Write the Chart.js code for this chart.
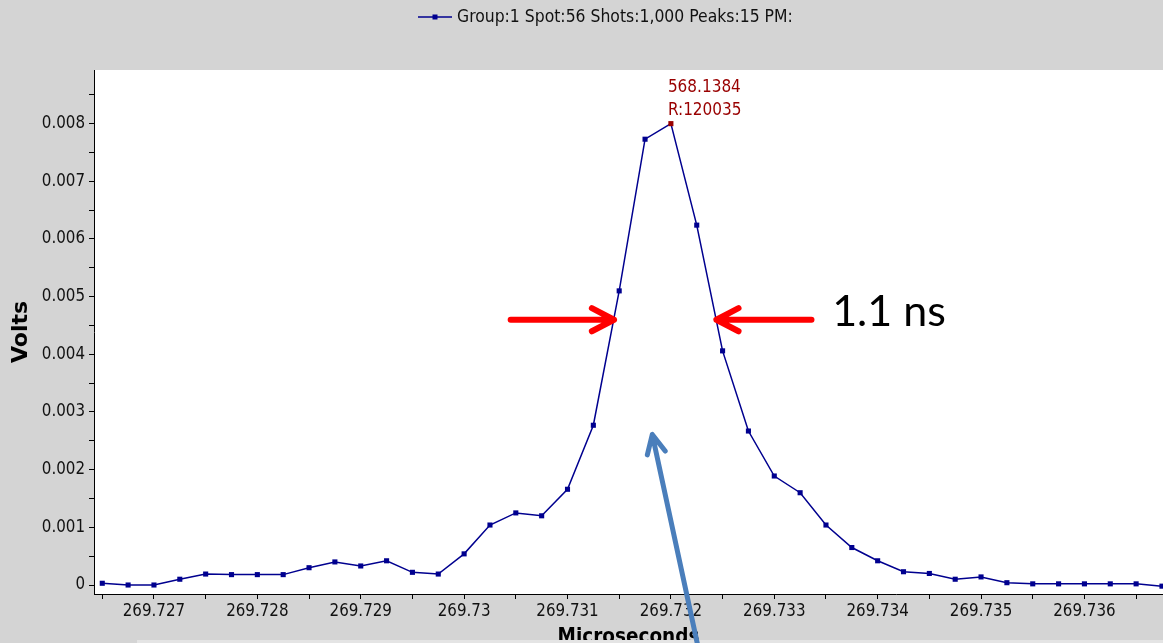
<!DOCTYPE html>
<html>
<head>
<meta charset="utf-8">
<script src="https://cdn.jsdelivr.net/npm/chart.js@4.4.1/dist/chart.umd.min.js"></script>
<style>
  html, body { margin: 0; padding: 0; background: #d4d4d4; overflow: hidden; }
  #wrap { width: 1163px; height: 643px; position: relative; }
</style>
</head>
<body>
<div id="wrap"><canvas id="c" width="1163" height="643"></canvas></div>
<script>
// Flight time of each sample (microseconds)
const times = [
  269.7265, 269.72675, 269.727, 269.72725, 269.7275, 269.72775, 269.728, 269.72825,
  269.7285, 269.72875, 269.729, 269.72925, 269.7295, 269.72975, 269.73, 269.73025,
  269.7305, 269.73075, 269.731, 269.73125, 269.7315, 269.73175, 269.732, 269.73225,
  269.7325, 269.73275, 269.733, 269.73325, 269.7335, 269.73375, 269.734, 269.73425,
  269.7345, 269.73475, 269.735, 269.73525, 269.7355, 269.73575, 269.736, 269.73625,
  269.7365, 269.73675
];
// Detector signal (volts)
const volts = [
  0.00003, 0.0, 0.0, 0.0001, 0.00019, 0.00018, 0.00018, 0.00018,
  0.0003, 0.0004, 0.00033, 0.00042, 0.00022, 0.00019, 0.00054, 0.00104,
  0.00125, 0.0012, 0.00166, 0.00277, 0.0051, 0.00773, 0.008, 0.00624,
  0.00406, 0.00267, 0.00189, 0.0016, 0.00104, 0.00065, 0.00042, 0.00023,
  0.0002, 0.0001, 0.00014, 0.00004, 0.00002, 0.00002, 0.00002, 0.00002,
  0.00002, -0.00002
];

const seriesLabel = 'Group:1 Spot:56 Shots:1,000 Peaks:15 PM:';
const peakLabel = ['568.1384', 'R:120035'];
const xTitle = 'Microseconds';
const yTitle = 'Volts';
const widthLabel = '1.1 ns';

// Visible axis windows
const xRange = [269.72642, 269.73676];
const yRange = [-0.000156, 0.00893];

// Peak-width markers and pointer, in axis units
const marks = {
  level: 0.0046,
  edges: [269.73145, 269.73244],
  tails: [269.73045, 269.73336],
  textX: 269.73356,
  pointerTip: [269.73182, 0.00261],
  pointerTail: [269.73229, -0.0013]
};

const LINE = '#00008f';
const PEAK = '#990000';
const FONT = "'DejaVu Sans Condensed', 'DejaVu Sans', sans-serif";

const peakIdx = volts.indexOf(Math.max(...volts));
const points = times.map((t, i) => ({ x: t, y: volts[i] }));

const isMajor = (v, step) => Math.abs(v / step - Math.round(v / step)) < 1e-6;
const fmt = v => String(parseFloat(v.toFixed(3)));

function arrow(ctx, x1, y1, x2, y2, head, angle) {
  const a = Math.atan2(y2 - y1, x2 - x1);
  ctx.beginPath();
  ctx.moveTo(x1, y1);
  ctx.lineTo(x2, y2);
  ctx.moveTo(x2 - head * Math.cos(a - angle), y2 - head * Math.sin(a - angle));
  ctx.lineTo(x2, y2);
  ctx.lineTo(x2 - head * Math.cos(a + angle), y2 - head * Math.sin(a + angle));
  ctx.stroke();
}

const plotBackground = {
  id: 'plotBackground',
  beforeDraw(chart) {
    const { ctx, chartArea: a } = chart;
    ctx.save();
    ctx.fillStyle = '#d4d4d4';
    ctx.fillRect(0, 0, chart.width, chart.height);
    ctx.fillStyle = '#ffffff';
    ctx.fillRect(a.left, a.top, a.right - a.left, a.bottom - a.top);
    ctx.restore();
  }
};

const seriesKey = {
  id: 'seriesKey',
  afterDraw(chart) {
    const ctx = chart.ctx;
    const y = 17, x0 = 418, x1 = 452;
    ctx.save();
    ctx.strokeStyle = LINE;
    ctx.lineWidth = 1.5;
    ctx.beginPath();
    ctx.moveTo(x0, y);
    ctx.lineTo(x1, y);
    ctx.stroke();
    ctx.fillStyle = LINE;
    ctx.fillRect((x0 + x1) / 2 - 2.5, y - 2.5, 5, 5);
    ctx.fillStyle = '#111';
    ctx.font = '17.4px ' + FONT;
    ctx.textBaseline = 'middle';
    ctx.textAlign = 'left';
    ctx.fillText(chart.data.datasets[0].label, x1 + 5, y);
    ctx.restore();
  }
};

const peakTag = {
  id: 'peakTag',
  afterDatasetsDraw(chart) {
    const pt = chart.getDatasetMeta(0).data[peakIdx];
    const ctx = chart.ctx;
    ctx.save();
    ctx.fillStyle = PEAK;
    ctx.font = '17px ' + FONT;
    ctx.textBaseline = 'middle';
    ctx.textAlign = 'left';
    ctx.fillText(peakLabel[0], pt.x - 3, pt.y - 36);
    ctx.fillText(peakLabel[1], pt.x - 3, pt.y - 13);
    ctx.restore();
  }
};

const callouts = {
  id: 'callouts',
  afterDraw(chart) {
    const { ctx, scales: { x, y } } = chart;
    ctx.save();
    // strip along the lower edge
    ctx.fillStyle = '#e4e4e4';
    ctx.fillRect(137, 640, chart.width - 137, 3);

    const ly = y.getPixelForValue(marks.level);
    ctx.strokeStyle = '#ff0000';
    ctx.lineWidth = 6;
    ctx.lineCap = 'round';
    ctx.lineJoin = 'round';
    arrow(ctx, x.getPixelForValue(marks.tails[0]), ly, x.getPixelForValue(marks.edges[0]), ly, 25, 0.48);
    arrow(ctx, x.getPixelForValue(marks.tails[1]), ly, x.getPixelForValue(marks.edges[1]), ly, 25, 0.48);

    ctx.fillStyle = '#000';
    ctx.font = "43px Lato, 'Open Sans', sans-serif";
    ctx.textBaseline = 'alphabetic';
    ctx.textAlign = 'left';
    ctx.fillText(widthLabel, x.getPixelForValue(marks.textX), ly + 6);

    ctx.strokeStyle = '#4a7ebb';
    ctx.lineWidth = 5;
    arrow(ctx,
      x.getPixelForValue(marks.pointerTail[0]), y.getPixelForValue(marks.pointerTail[1]),
      x.getPixelForValue(marks.pointerTip[0]), y.getPixelForValue(marks.pointerTip[1]),
      21, 0.45);
    ctx.restore();
  }
};

new Chart(document.getElementById('c'), {
  type: 'line',
  data: {
    datasets: [{
      label: seriesLabel,
      data: points,
      borderColor: LINE,
      borderWidth: 1.5,
      tension: 0,
      pointStyle: 'rect',
      pointRadius: 3.6,
      pointBorderWidth: 0,
      pointBackgroundColor: ctx => ctx.dataIndex === peakIdx ? PEAK : LINE,
      clip: false
    }]
  },
  options: {
    responsive: false,
    animation: false,
    events: [],
    layout: { autoPadding: false, padding: { top: 70, right: 0, left: 0, bottom: 0 } },
    plugins: { legend: { display: false }, tooltip: { enabled: false } },
    scales: {
      x: {
        type: 'linear',
        min: xRange[0],
        max: xRange[1],
        afterFit: s => { s.height = 49; },
        border: { color: '#000', width: 1 },
        grid: { drawOnChartArea: false, drawTicks: true, tickLength: 5, color: '#000' },
        ticks: {
          stepSize: 0.0005,
          includeBounds: false,
          autoSkip: false,
          maxRotation: 0,
          padding: 3,
          color: '#111',
          font: { family: FONT, size: 16.8 },
          callback: v => isMajor(v, 0.001) ? fmt(v) : ''
        },
        title: {
          display: true,
          text: xTitle,
          color: '#000',
          padding: { top: 0, bottom: 0 },
          font: { family: FONT, size: 20.5, weight: 'bold', lineHeight: 0.5 }
        }
      },
      y: {
        type: 'linear',
        min: yRange[0],
        max: yRange[1],
        afterFit: s => { s.width = 94; },
        border: { color: '#000', width: 1 },
        grid: { drawOnChartArea: false, drawTicks: true, tickLength: 5, color: '#000' },
        ticks: {
          stepSize: 0.0005,
          includeBounds: false,
          autoSkip: false,
          padding: 4,
          color: '#111',
          font: { family: FONT, size: 16.8 },
          callback: v => isMajor(v, 0.001) ? fmt(v) : ''
        },
        title: {
          display: true,
          text: yTitle,
          color: '#000',
          padding: { top: 8, bottom: 0 },
          font: { family: "'DejaVu Sans', sans-serif", size: 22, weight: 'bold', lineHeight: 1.2 }
        }
      }
    }
  },
  plugins: [plotBackground, seriesKey, peakTag, callouts]
});
</script>
</body>
</html>
